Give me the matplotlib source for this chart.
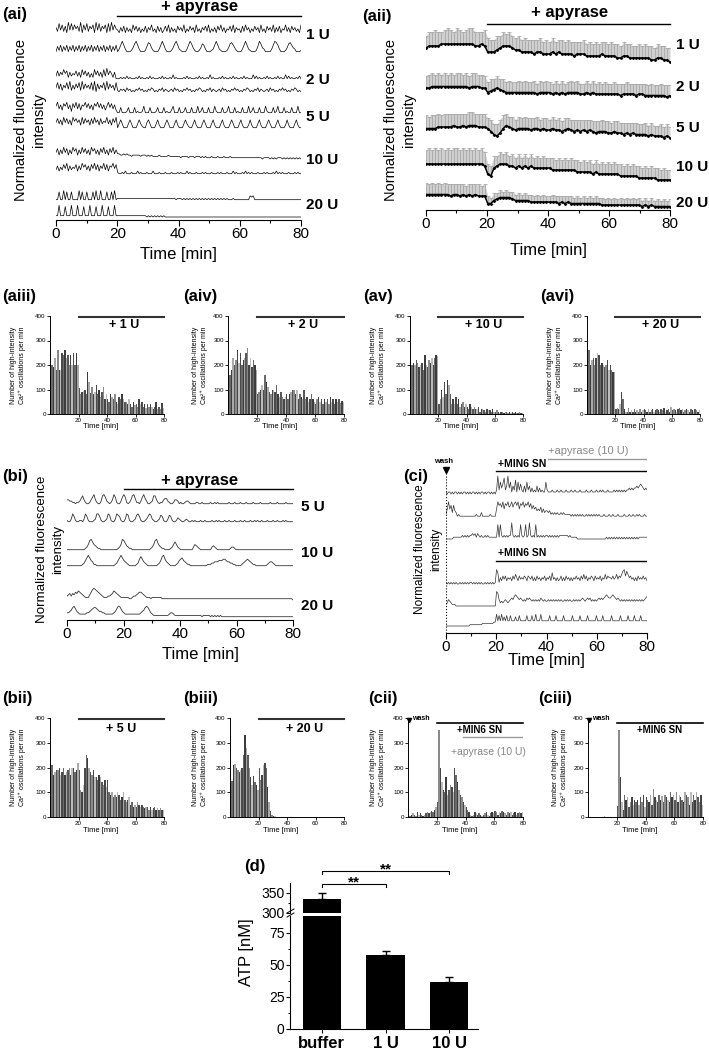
import numpy as np
import matplotlib
matplotlib.use("Agg")
import matplotlib.pyplot as plt
from matplotlib.lines import Line2D

# ------------------------------------------------------------------
# data
# ------------------------------------------------------------------
doses_a = ["1 U", "2 U", "5 U", "10 U", "20 U"]
doses_b = ["5 U", "10 U", "20 U"]

# (ai) single-cell traces, 0.5 min per digit, two cells per dose
ai_traces = [
    "5283726193 8374629173 8264719382 6471829374 3152615241 7362514261 5372416251 3627152416 3527142635 1724153627 1425163725 1436271534 1627351426 3517241635 2715261437 2516352417",
    "1526152615 2615261526 1526152615 2615261526 1369631112 4796311125 8742111369 6311124796 3211136974 2112476311 1236963211 1247864211 1369632111 2597431111 3698631112 4786431112",
    "3736485726 3547362847 3625284736 2839475261 1121213121 1121312112 1312111213 1211214121 1112131211 1213121121 4121112131 2112131211 2131211141 3121121312 1121312114 1312112131",
    "4837264839 2637482937 4638291736 4829374628 2132314231 2132423121 3243121324 1321231423 1213242312 1324312132 4132123142 3121324231 2132431213 2413212314 2312132423 1213243121",
    "6947386947 2859483769 5847386958 4736958473 1151112511 1512112611 1511125111 5121136111 5112511151 1161251115 1116211151 1261115121 1511161251 1151116211 1512611151 2115111611",
    "5847395847 3968573948 5738495738 4659473859 1474111474 1114742115 7411147311 1474111473 1114742114 7311147411 1473111473 1114741114 7311137311 1473111474 1114731113 7311147311",
    "5837495837 4968374958 4739684738 5947385947 4433434332 3333323332 3232222322 2223222222 2122221222 1222121211 1211121112 1112111111 1111111111 1111011110 1010111010 1010101010",
    "4736485937 4658374968 4738594837 5948376958 2112131112 1113121112 1113111211 1211121112 1211131211 1211121211 1211121211 1211131211 1213121211 1211121211 1213121211 1211121211",
    "1171181711 7111181711 7111718118 1117117181 2222222222 2222222222 2222222222 2222222212 2212121212 1212121212 1212121212 1211121111 1111114341 1111111111 1111111111 1111111111",
    "1191118111 9111911181 1191118111 9111811191 1111111111 1111111110 1010101010 1000000000 0000000000 0000000000 0000000000 0000000000 0000000000 0000000000 0000000000 0000000000",
]

# (aii) mean and SD per dose, 1 min per digit
aii_mean = [
    "7888899999 9999998898 5556788876 6555545544 4545444434 4433333433 3322332222 2221122110",
    "6677777777 7777677766 3456543333 3333332333 3232323333 2232322222 2221222212 2111111101",
    "7777888889 8898999888 7532479876 7777677676 6766567656 5656545554 4544343433 3323222121",
    "9999999999 9999999998 4378999887 8787877777 7666666665 5555454444 4443333332 2222211111",
    "9999999989 9898989888 3356777765 5555444444 4443434333 3333333222 2222222222 1212111111",
]
aii_sd = [
    "6778767876 8767887768 7667676766 7676676767 6766767676 6767676676 7676767667 6767676767",
    "8998989898 9989899898 7878787877 8787787878 7787877878 7787878787 7878787787 7878778787",
    "9899989998 9989998999 7878998787 8787878778 7878787787 8787787878 7787878787 7878778787",
    "7878787878 8787878787 5565656565 6565656565 5656565656 5656565656 5656565656 5656565655",
    "8787878787 7877787878 5454545454 5454545454 4545454545 4545454545 4545454545 4545454545",
]

# (bi) slow oscillations, 0.5 min per digit
bi_traces = [
    "4433221223 5742112468 4211378632 1248621136 8621247852 2136853112 3774212245 5321124431 2112332111 1221121111 1211212111 1111211121 1121112111 1211112111 1112111121 1111211111",
    "2113752112 2137521112 3775211237 6211376521 1376211236 7521123576 3211236521 1365211243 2112321121 2111211211 1121121211 1211211121 1121121112 1121211211 1211121121 1121211111",
    "1111111111 1112358975 4322111111 1111112359 8643221111 1111111112 3589643221 1112357532 1111111113 5432111111 1134321111 1111123321 1111111111 1111111111 1111111111 1111111111",
    "1111111111 1235797542 2111111111 1111235797 5432111112 3686432111 1111235896 4321111235 6754322111 1111111112 2233444555 6654433221 1112345654 3221111111 1234432111 1111111111",
    "3453546576 5432224689 8765432223 3457654322 2222112334 5665432221 2222222111 1111111111 1111111111 1111111111 1111111111 1111111111 1111111111 1111111111 1111111111 1111111110",
    "4456897543 3333445678 8765544333 3334579975 4333333333 3345689864 3222222222 2234432222 2222222222 2222212222 2121212121 1111111111 1111111111 1111111111 1111111111 1111111111",
]

# (ci) MIN6 supernatant traces, 0.5 min per digit
ci_traces = [
    "1011010110 1010110101 0110101011 0101101010 2926358249 3614271625 2141624131 2141312116 2111211121 1211121112 1121112111 1211121112 1121211121 1112121212 1212232323 3434543232",
    "2595737431 2111111111 1111211131 1111121111 5978695879 6796897958 7968796857 5645463534 4342323232 2323222221 2121212121 1212121212 1211121112 1121112111 1211121121 1212111211",
    "0000001111 1112121212 2323132121 1212111111 1818212121 2292121218 2128129212 1812121212 2121212121 2222222121 1111000000 0000000000 0000000101 0101010101 0101010101 0101111111",
    "1010101010 0101010101 1010101010 0101010101 9714253524 3425364253 4354254352 4253424352 4352734242 3524253424 2435342536 3524354253 4352436354 4353463546 8958645342 4253435342",
    "1243211100 0000000000 0000000000 0000000000 9842323432 3454676545 4343545434 3434354343 3434343434 3433434343 3434343454 3454534343 4545456765 5676545434 3434343434 3434343456",
    "0000000000 0000000001 1111111112 2222222233 9484947484 4844474484 4444844484 4944494444 4484444844 4448444444 8444448444 4484444448 4444844444 4844444484 4444844448 4444844444",
]

# high-intensity oscillations per min (one value per minute)
aiii_vals = [150, 200, 190, 230, 180, 260, 180, 180, 250, 240,
             260, 230, 240, 200, 240, 200, 250, 200, 250, 200,
             105, 80, 90, 95, 100, 80, 170, 130, 85, 110,
             80, 90, 120, 80, 100, 70, 90, 110, 60, 80,
             60, 50, 80, 70, 60, 80, 50, 40, 70, 60,
             80, 60, 50, 50, 40, 60, 40, 30, 50, 35,
             40, 30, 60, 40, 50, 30, 40, 25, 40, 30,
             40, 30, 20, 30, 50, 20, 30, 20, 45, 25]
aiv_vals = [150, 160, 180, 230, 200, 220, 260, 210, 250, 200,
            220, 230, 250, 270, 200, 230, 190, 220, 200, 180,
            80, 90, 100, 120, 100, 160, 130, 110, 90, 80,
            100, 100, 90, 120, 80, 70, 90, 70, 60, 70,
            80, 60, 80, 90, 100, 100, 80, 100, 60, 80,
            70, 60, 100, 60, 70, 50, 60, 80, 60, 50,
            40, 60, 70, 50, 60, 40, 60, 50, 60, 40,
            70, 50, 60, 40, 60, 50, 60, 45, 55, 50]
av_vals = [180, 200, 210, 200, 220, 210, 190, 200, 210, 180,
           240, 200, 190, 220, 210, 230, 200, 230, 240, 235,
           40, 60, 100, 70, 130, 80, 140, 120, 80, 40,
           60, 40, 70, 40, 60, 30, 40, 50, 30, 40,
           30, 20, 40, 30, 20, 30, 20, 20, 30, 10,
           20, 20, 15, 10, 20, 15, 15, 10, 20, 10,
           10, 15, 10, 5, 10, 10, 5, 10, 10, 5,
           10, 5, 10, 5, 10, 5, 5, 10, 5, 5]
avi_vals = [210, 260, 200, 220, 230, 200, 230, 250, 240, 200,
            210, 200, 190, 200, 220, 180, 200, 180, 170, 170,
            20, 25, 20, 40, 90, 60, 20, 10, 10, 25,
            10, 15, 10, 20, 10, 15, 10, 20, 10, 15,
            20, 15, 10, 20, 10, 15, 20, 10, 15, 20,
            15, 10, 20, 15, 25, 10, 15, 20, 10, 30,
            15, 20, 15, 10, 20, 25, 15, 20, 10, 15,
            20, 15, 10, 20, 15, 10, 20, 15, 10, 15]
bii_vals = [200, 210, 170, 180, 190, 190, 200, 170, 180, 200,
            170, 180, 190, 200, 170, 200, 200, 180, 190, 220,
            190, 110, 100, 130, 200, 250, 240, 200, 180, 170,
            190, 160, 160, 150, 170, 160, 140, 130, 150, 120,
            150, 100, 90, 100, 80, 90, 80, 100, 90, 70,
            80, 100, 70, 60, 70, 80, 50, 60, 40, 50,
            40, 60, 50, 40, 50, 40, 35, 40, 40, 30,
            40, 30, 35, 40, 30, 35, 30, 35, 30, 30]
biii_vals = [170, 145, 210, 215, 200, 190, 180, 190, 200, 250,
             330, 280, 250, 200, 160, 130, 165, 140, 130, 110,
             200, 150, 170, 210, 220, 200, 120, 60, 25, 10,
             5, 3, 0, 0, 0, 2, 0, 0, 0, 0,
             0, 0, 2, 0, 0, 0, 0, 0, 0, 2,
             0, 0, 0, 0, 0, 0, 0, 0, 0, 0,
             0, 0, 0, 2, 0, 0, 0, 0, 0, 0,
             0, 0, 0, 0, 0, 0, 0, 0, 0, 0]
cii_vals = [10, 5, 10, 15, 10, 5, 20, 10, 15, 10,
            5, 10, 15, 20, 15, 20, 25, 20, 30, 40,
            60, 350, 200, 140, 110, 100, 160, 90, 110, 130,
            120, 100, 200, 170, 140, 110, 90, 80, 60, 50,
            40, 30, 20, 10, 5, 10, 20, 15, 10, 15,
            10, 5, 10, 15, 20, 10, 5, 15, 20, 15,
            25, 20, 10, 20, 15, 25, 20, 15, 10, 20,
            15, 20, 10, 15, 20, 10, 15, 20, 15, 20]
ciii_vals = [0, 0, 0, 0, 0, 0, 0, 0, 0, 0,
             0, 3, 0, 0, 0, 0, 0, 0, 0, 0,
             45, 350, 160, 60, 30, 90, 70, 80, 40, 60,
             80, 50, 70, 60, 70, 50, 80, 60, 90, 40,
             80, 70, 60, 90, 50, 115, 80, 70, 60, 90,
             70, 85, 60, 90, 80, 70, 60, 100, 80, 90,
             70, 100, 60, 90, 80, 70, 60, 100, 90, 80,
             50, 100, 60, 90, 70, 100, 80, 60, 90, 50]

# (d) ATP in supernatant
atp_groups = ["buffer", "1 U", "10 U"]
atp_mean = [335, 58, 36.5]
atp_err = [15, 3, 4]

# ------------------------------------------------------------------
plt.rcParams['font.family'] = ['Liberation Sans', 'DejaVu Sans']
W, H = 709, 1052
fig = plt.figure(figsize=(W / 100, H / 100), dpi=100)


def box(l, t, r, b):
    # axes from pixel edges of the reference
    return fig.add_axes([l / W, 1 - b / H, (r - l) / W, (b - t) / H])


def ftext(x, y, s, **kw):
    kw.setdefault('ha', 'left')
    kw.setdefault('va', 'center')
    return fig.text(x / W, 1 - y / H, s, **kw)


def levels(s):
    return np.array([int(c) for c in s.replace(" ", "")], dtype=float)


def trace_axes(l, t, r, b):
    ax = box(l, t, r, b)
    ax.set_xlim(0, 80)
    ax.set_ylim(b, t)          # y in reference pixels
    for side in ('left', 'top', 'right'):
        ax.spines[side].set_visible(False)
    ax.spines['bottom'].set_linewidth(0.8)
    ax.set_yticks([])
    ax.set_xticks([0, 20, 40, 60, 80])
    ax.set_xticks([10, 30, 50, 70], minor=True)
    ax.tick_params(axis='x', labelsize=11, length=4, width=0.8, pad=1)
    ax.tick_params(axis='x', which='minor', length=2, width=0.8)
    ax.patch.set_alpha(0)
    return ax


def draw_traces(ax, traces, bases, scales, color='k', lw=0.5):
    for s, b, k in zip(traces, bases, scales):
        v = levels(s)
        t = np.linspace(0, 80, len(v))
        ax.plot(t, b - v * k, color=color, lw=lw)


BAR_TONES = ['#4a4a4a', '#6a6a6a', '#3c3c3c', '#a9a9a9', '#585858', '#8a8a8a', '#454545', '#bcbcbc']


def bar_panel(l, t, r, b, vals, ylab_x):
    ax = box(l, t, r, b)
    x = np.arange(len(vals)) + 0.5
    tones = [BAR_TONES[i % len(BAR_TONES)] for i in range(len(vals))]
    ax.bar(x, vals, width=1.0, color=tones, edgecolor='none')
    ax.set_xlim(0, 80)
    ax.set_ylim(0, 400)
    ax.set_xticks([20, 40, 60, 80])
    ax.set_yticks([0, 100, 200, 300, 400])
    ax.tick_params(labelsize=4.5, length=2, width=0.6, pad=1)
    for side in ('top', 'right'):
        ax.spines[side].set_visible(False)
    for side in ('left', 'bottom'):
        ax.spines[side].set_linewidth(0.7)
    ftext(ylab_x, (t + b) / 2, "Number of high-intensity\nCa²⁺ oscillations per min",
          rotation=90, ha='center', fontsize=5, linespacing=1.1)
    ftext((l + r) / 2 - 6, b + 13, "Time [min]", ha='center', fontsize=5.5)
    return ax


# ---------------- (ai) ----------------
ax = trace_axes(56, 0, 301, 220)
draw_traces(ax, ai_traces,
            [34, 53, 80, 93, 114, 129, 159, 175, 201, 217],
            [1.3] * 10)
ax.plot([20, 80], [16, 16], color='k', lw=1.0, clip_on=False)
ax.text(47, 6, "+ apyrase", ha='center', va='center', fontsize=12, fontweight='bold')
for lab, y in zip(doses_a, [35, 80, 117, 160, 205]):
    ax.text(81.5, y, lab, ha='left', va='center', fontsize=11, fontweight='bold', clip_on=False)
ftext(30, 120, "Normalized fluorescence\nintensity", rotation=90, ha='center', fontsize=10.5, linespacing=1.3)
ftext(178, 254, "Time [min]", ha='center', fontsize=12)
ftext(2, 15, "(ai)", fontsize=12, fontweight='bold')

# ---------------- (aii) ----------------
ax = trace_axes(426, 0, 670, 210)
for m, sd, b, k in zip(aii_mean, aii_sd, [62, 97, 139, 182, 208], [2, 1.5, 1.5, 2, 1.5]):
    mv = levels(m)
    sv = levels(sd)
    t = np.linspace(0, 80, len(mv))
    y = b - mv * k
    ax.fill_between(t, y - sv * k, y, color='#cfcfcf', lw=0)
    ax.errorbar(t, y, yerr=[sv * k, np.zeros_like(sv)], fmt='none', ecolor='#a8a8a8',
                elinewidth=0.6, capsize=1.2, capthick=0.6)
    ax.plot(t, y, color='k', lw=1.1, marker='o', ms=1.0)
ax.plot([20, 80], [24, 24], color='k', lw=1.0, clip_on=False)
ax.text(47, 13, "+ apyrase", ha='center', va='center', fontsize=12, fontweight='bold')
for lab, y in zip(doses_a, [45, 87, 128, 167, 203]):
    ax.text(82, y, lab, ha='left', va='center', fontsize=11, fontweight='bold', clip_on=False)
ftext(400, 120, "Normalized fluorescence\nintensity", rotation=90, ha='center', fontsize=10.5, linespacing=1.3)
ftext(548, 251, "Time [min]", ha='center', fontsize=12)
ftext(362, 17, "(aii)", fontsize=12, fontweight='bold')

# ---------------- (aiii)-(avi) ----------------
row1 = [(50, 164, aiii_vals, 18, "(aiii)", 2, "+ 1 U"),
        (228, 344, aiv_vals, 200, "(aiv)", 183, "+ 2 U"),
        (410, 523, av_vals, 378, "(av)", 363, "+ 10 U"),
        (587, 700, avi_vals, 555, "(avi)", 540, "+ 20 U")]
for l, r, vals, yl, name, nx, tag in row1:
    ax = bar_panel(l, 316, r, 414, vals, yl)
    ax.plot([20, 80], [395, 395], color='#333333', lw=1.5, clip_on=False)
    ax.text(52, 362, tag, ha='center', va='center', fontsize=9, fontweight='bold')
    ftext(nx, 296, name, fontsize=12, fontweight='bold')

# ---------------- (bi) ----------------
ax = trace_axes(67, 470, 293, 620)
draw_traces(ax, bi_traces, [505, 523, 551, 567, 600, 618], [1.3] * 6, color='#333333', lw=0.6)
ax.plot([20, 80], [489, 489], color='k', lw=1.0, clip_on=False)
ax.text(47, 480, "+ apyrase", ha='center', va='center', fontsize=12, fontweight='bold')
for lab, y in zip(doses_b, [507, 553, 606]):
    ax.text(83, y, lab, ha='left', va='center', fontsize=11, fontweight='bold', clip_on=False)
ftext(50, 549, "Normalized fluorescence\nintensity", rotation=90, ha='center', fontsize=9.6, linespacing=1.4)
ftext(200, 654, "Time [min]", ha='center', fontsize=12)
ftext(2, 476, "(bi)", fontsize=12, fontweight='bold')

# ---------------- (ci) ----------------
ax = trace_axes(446, 440, 647, 633)
draw_traces(ax, ci_traces, [494, 518, 539, 584, 606, 626], [2.0, 1.8, 1.8, 1.6, 1.6, 1.3],
            color='#333333', lw=0.5)
ax.plot([0, 0], [473, 633], color='k', lw=0.8, ls=':')
ax.plot([0], [470], marker='v', color='k', ms=5, clip_on=False)
ax.text(-1, 462, "wash", ha='center', va='center', fontsize=5.5, fontweight='bold')
ax.plot([40.5, 80], [459, 459], color='#999999', lw=1.0)
ax.text(40.5, 451, "+apyrase (10 U)", ha='left', va='center', fontsize=8, color='#888888')
ax.plot([20, 80], [471, 471], color='k', lw=1.0)
ax.text(20.5, 464, "+MIN6 SN", ha='left', va='center', fontsize=7.5, fontweight='bold')
ax.plot([20, 80], [561, 561], color='k', lw=1.0)
ax.text(20.5, 553, "+MIN6 SN", ha='left', va='center', fontsize=7.5, fontweight='bold')
ftext(428, 549, "Normalized fluorescence\nintensity", rotation=90, ha='center', fontsize=8.5, linespacing=1.4)
ftext(546, 660, "Time [min]", ha='center', fontsize=12)
ftext(403, 476, "(ci)", fontsize=12, fontweight='bold')

# ---------------- (bii)-(ciii) ----------------
ax = bar_panel(50, 718, 164, 817, bii_vals, 18)
ax.plot([20, 80], [396, 396], color='#333333', lw=1.5, clip_on=False)
ax.text(50, 356, "+ 5 U", ha='center', va='center', fontsize=9, fontweight='bold')
ftext(2, 698, "(bii)", fontsize=12, fontweight='bold')

ax = bar_panel(230, 718, 344, 817, biii_vals, 200)
ax.plot([20, 80], [396, 396], color='#333333', lw=1.5, clip_on=False)
ax.text(52, 356, "+ 20 U", ha='center', va='center', fontsize=9, fontweight='bold')
ftext(183, 698, "(biii)", fontsize=12, fontweight='bold')

for l, r, vals, yl, name, nx in [(408, 523, cii_vals, 378, "(cii)", 368),
                                  (588, 703, ciii_vals, 560, "(ciii)", 538)]:
    ax = bar_panel(l, 718, r, 817, vals, yl)
    ax.plot([20, 80], [380, 380], color='k', lw=1.2, clip_on=False)
    ax.plot([0.8], [392], marker='v', color='k', ms=3, clip_on=False)
    ax.text(3, 398, "wash", ha='left', va='center', fontsize=5, fontweight='bold')
    ax.text(50, 352, "+MIN6 SN", ha='center', va='center', fontsize=7, fontweight='bold')
    ftext(nx, 698, name, fontsize=12, fontweight='bold')
    if name == "(cii)":
        ax.plot([38, 80], [324, 324], color='#999999', lw=1.0)
        ax.text(56, 262, "+apyrase (10 U)", ha='center', va='center', fontsize=7.5, color='#888888')

# ---------------- (d) ----------------
low = box(290, 916, 478, 1029)
up = box(290, 883, 478, 913)
xb = np.arange(len(atp_groups))
for a in (low, up):
    a.bar(xb, atp_mean, width=0.6, color='k')
    a.errorbar(xb, atp_mean, yerr=[np.zeros(len(atp_err)), atp_err], fmt='none',
               ecolor='k', elinewidth=1.0, capsize=3, capthick=1.0)
    a.set_xlim(-0.5, 2.45)
    a.spines['top'].set_visible(False)
    a.spines['right'].set_visible(False)
    a.patch.set_alpha(0)
low.set_ylim(0, 88)
up.set_ylim(300, 374)
up.spines['bottom'].set_visible(False)
up.set_xticks([])
low.set_yticks([0, 25, 50, 75])
low.set_yticks([12.5, 37.5, 62.5], minor=True)
up.set_yticks([300, 350])
up.set_yticks([325], minor=True)
low.set_xticks(xb)
low.set_xticklabels(atp_groups, fontsize=12, fontweight='bold')
for a in (low, up):
    a.tick_params(axis='y', labelsize=10, length=3, width=0.8, pad=1)
    a.tick_params(axis='y', which='minor', length=1.5, width=0.8)
low.tick_params(axis='x', length=3, width=0.8, pad=2)
# break marks on the y axis
for yy in (911, 915):
    fig.add_artist(Line2D([287 / W, 294 / W], [1 - (yy + 2) / H, 1 - (yy - 2) / H],
                          color='k', lw=0.7))
# significance brackets
up.plot([0, 0, 1, 1], [365, 371, 371, 365], color='k', lw=0.8, clip_on=False)
up.plot([0, 0, 2, 2], [397, 403, 403, 397], color='k', lw=0.8, clip_on=False)
up.text(0.5, 375, "**", ha='center', va='center', fontsize=11, fontweight='bold', clip_on=False)
up.text(1.0, 407, "**", ha='center', va='center', fontsize=11, fontweight='bold', clip_on=False)
ftext(247, 952, "ATP [nM]", rotation=90, ha='center', fontsize=12)
ftext(244, 866, "(d)", fontsize=12, fontweight='bold')

fig.savefig("out.png", dpi=100)
